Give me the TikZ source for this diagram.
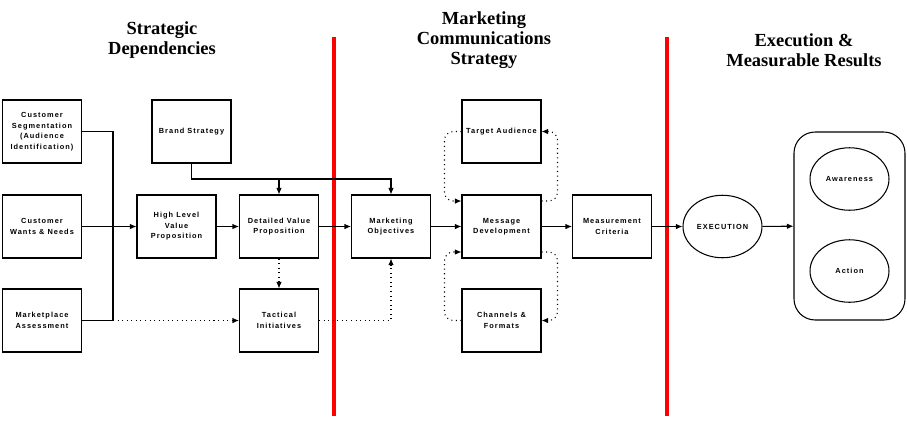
\documentclass[tikz,border=0pt]{standalone}
\usepackage{fontspec}
\setmainfont{Liberation Serif}
\newfontfamily\boxfont[LetterSpace=14]{Liberation Sans}
\usetikzlibrary{arrows.meta,shapes.geometric}
\begin{document}
\begin{tikzpicture}[x=0.02cm,y=-0.02cm]

  \tikzstyle{box}=[shape=rectangle,draw,line width=0.6pt,minimum width=1.58cm,minimum height=1.26cm,inner sep=1pt,align=center,font=\boxfont\bfseries\fontsize{4.2}{6}\selectfont]

  \tikzstyle{oval}=[shape=ellipse,draw,line width=0.6pt,minimum width=1.58cm,minimum height=1.25cm,inner sep=0pt,font=\boxfont\bfseries\fontsize{4.2}{6}\selectfont]

  \tikzstyle{title}=[align=center,font=\bfseries\fontsize{10.5}{11.4}\selectfont]

  \tikzstyle{lineDecorate}=[-{Latex[length=1.3mm,width=1.1mm]},line width=0.6pt]

  \tikzstyle{lineDotted}=[lineDecorate,dotted]

  \tikzstyle{lineLoop}=[lineDotted,rounded corners=5pt]

  \tikzstyle{redbar}=[draw=red,line width=2.3pt]

\useasboundingbox (0,0) rectangle (907,434);

%% titles and dividers

\node (T1)[title] at (162,40) {Strategic\\Dependencies};

\node (T2)[title] at (484,40) {Marketing\\Communications\\Strategy};

\node (T3)[title] at (804,50) {Execution \&\\Measurable Results};

\draw[redbar] (334,37) -- (334,416);

\draw[redbar] (667,37) -- (667,416);

%% nodes

\node (seg)[box] at (42,131.5) {Customer\\Segmentation\\(Audience\\Identification)};

\node (wants)[box] at (42,226.5) {Customer\\Wants \& Needs};

\node (market)[box] at (42,320.5) {Marketplace\\Assessment};

\node (brand)[box] at (191.5,131.5) {Brand Strategy};

\node (hlvp)[box] at (176.5,226.5) {High Level\\Value\\Proposition};

\node (dvp)[box] at (279,226.5) {Detailed Value\\Proposition};

\node (tact)[box] at (279,320.5) {Tactical\\Initiatives};

\node (mobj)[box] at (391,226.5) {Marketing\\Objectives};

\node (target)[box] at (501.5,131.5) {Target Audience};

\node (msg)[box] at (501.5,226.5) {Message\\Development};

\node (chan)[box] at (501.5,320.5) {Channels \&\\Formats};

\node (meas)[box] at (612,226.5) {Measurement\\Criteria};

\node (exec)[oval] at (722.5,226.5) {EXECUTION};

\node (results)[draw,line width=0.6pt,rounded corners=12pt,minimum width=2.22cm,minimum height=3.76cm] at (849.5,226) {};

\node (aware)[oval] at (849.5,179) {Awareness};

\node (action)[oval] at (849.5,271) {Action};

\coordinate (join) at (113,320.5);

\coordinate (bturn) at (391,179);

%% edges or lines

\draw[line width=0.6pt] (seg.east) -| (join) -- (market.east);

\draw[lineDotted] (join) -- (tact.west);

\draw[lineDecorate] (brand.south) |- (bturn) -- (mobj.north);

\draw[lineDecorate] (dvp.north |- bturn) -- (dvp.north);

\draw[lineDotted] (dvp) -- (tact);

\draw[lineDotted] (tact.east) -| (mobj.south);

\path
	(wants) edge[lineDecorate] (hlvp)
	(hlvp) edge[lineDecorate] (dvp)
	(dvp) edge[lineDecorate] (mobj)
	(mobj) edge[lineDecorate] (msg)
	(msg) edge[lineDecorate] (meas)
	(meas) edge[lineDecorate] (exec)
	(exec) edge[lineDecorate] (results)
;

%% dotted feedback loops round Message Development

\draw[lineLoop] (target.west) -- ++(-17,0) |- ([yshift=5.1mm]msg.west);

\draw[lineLoop] ([yshift=5.1mm]msg.east) -- ++(16,0) |- (target.east);

\draw[lineLoop] (chan.west) -- ++(-17,0) |- ([yshift=-5.1mm]msg.west);

\draw[lineLoop] ([yshift=-5.1mm]msg.east) -- ++(16,0) |- (chan.east);

\end{tikzpicture}
\end{document}
